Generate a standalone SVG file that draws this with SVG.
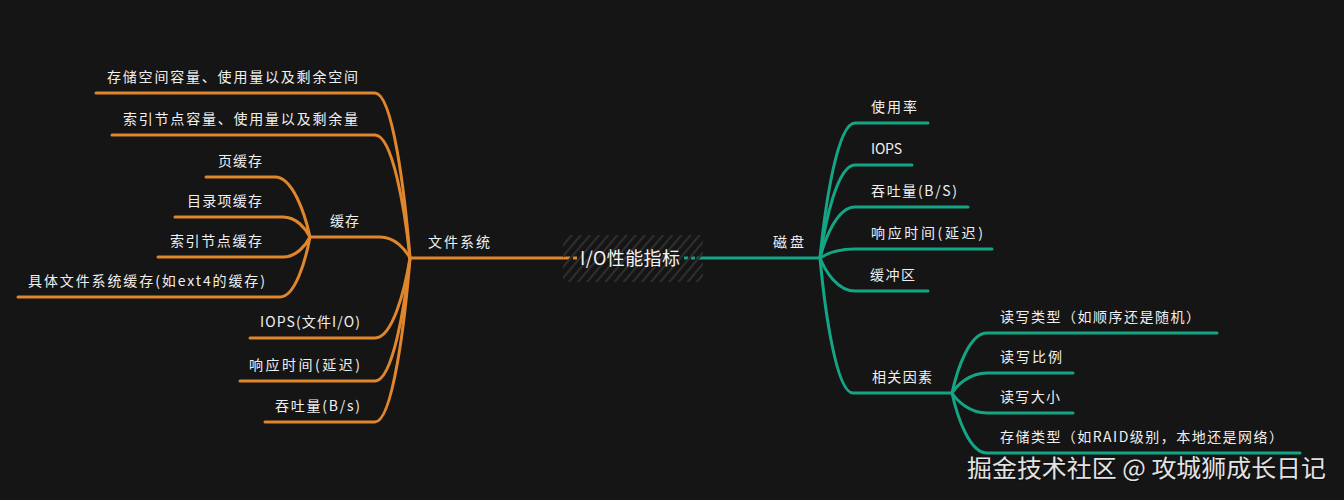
<svg xmlns="http://www.w3.org/2000/svg" width="1344" height="500" viewBox="0 0 1344 500">
<defs>
<pattern id="hatch" patternUnits="userSpaceOnUse" width="7" height="7" patternTransform="rotate(40)">
<line x1="1" y1="0" x2="1" y2="7" stroke="#2e2e2e" stroke-width="2.2"/>
</pattern>
<style>
.t{font-family:"Noto Sans CJK SC","Noto Sans",sans-serif;font-size:14px;fill:#f0f0f0;}
.e{text-anchor:end;}
.o{fill:none;stroke:#e0862c;stroke-width:3;stroke-linecap:round;}
.g{fill:none;stroke:#14a585;stroke-width:3;stroke-linecap:round;}
.od{fill:none;stroke:#e0862c;stroke-width:3;stroke-dasharray:4 3;}
.gd{fill:none;stroke:#14a585;stroke-width:3;stroke-dasharray:4 3;}
.c{font-family:"Noto Sans CJK SC","Noto Sans",sans-serif;font-size:18px;fill:#f4f4f4;}
.w{font-family:"Noto Sans CJK SC","Noto Sans",sans-serif;font-size:24px;fill:#e2e2e2;}
</style>
</defs>
<rect width="1344" height="500" fill="#151515"/>

<g id="connectors">
<path class="o" d="M410 258 L565 258"/>
<path class="od" d="M566 258 L580 258"/>
<path class="g" d="M698 258 L820 258"/>
<path class="gd" d="M684 258 L698 258"/>
<path class="o" d="M410 258 C404.8 192 392.5 93 375 93 L96 93"/>
<path class="o" d="M410 258 C404.8 208.8 392.5 135 375 135 L112 135"/>
<path class="o" d="M410 258 C405.5 249.6 395 237 380 237 L310 237"/>
<path class="o" d="M410 258 C404.8 290 392.5 338 375 338 L250 338"/>
<path class="o" d="M410 258 C404.8 307.2 392.5 381 375 381 L240 381"/>
<path class="o" d="M410 258 C404.8 323.6 392.5 422 375 422 L265 422"/>
<path class="o" d="M310 237 C304.8 213 292.5 177 275 177 L206 177"/>
<path class="o" d="M310 237 C306 229 296.5 217 283 217 L175 217"/>
<path class="o" d="M310 237 C306 245 296.5 257 283 257 L158 257"/>
<path class="o" d="M310 237 C305.5 261 295 297 280 297 L18 297"/>
<path class="g" d="M820 258 C825.3 204 837.5 123 855 123 L928 123"/>
<path class="g" d="M820 258 C825.3 220.8 837.5 165 855 165 L912 165"/>
<path class="g" d="M820 258 C825.3 237.6 837.5 207 855 207 L968 207"/>
<path class="g" d="M820 258 C825.3 254.4 837.5 249 855 249 L992 249"/>
<path class="g" d="M820 258 C825.3 271.2 837.5 291 855 291 L928 291"/>
<path class="g" d="M820 258 C825 312 836.5 393 853 393 L952 393"/>
<path class="g" d="M952 393 C957.3 369 969.5 333 987 333 L1217 333"/>
<path class="g" d="M952 393 C957.3 385 969.5 373 987 373 L1073 373"/>
<path class="g" d="M952 393 C957.3 401 969.5 413 987 413 L1073 413"/>
<path class="g" d="M952 393 C957.3 417 969.5 453 987 453 L1300 453"/>
</g>

<g id="root">
<rect x="563" y="235" width="140" height="47" rx="3" fill="url(#hatch)"/>
<text class="c" x="580" y="265" textLength="100" lengthAdjust="spacing">I/O性能指标</text>
</g>

<g id="n-fs"><text class="t" x="428" y="247" textLength="62" lengthAdjust="spacing">文件系统</text></g>
<g id="n-fs-space"><text class="t e" x="358" y="82" textLength="251" lengthAdjust="spacing">存储空间容量、使用量以及剩余空间</text></g>
<g id="n-fs-inode"><text class="t e" x="358" y="124" textLength="235" lengthAdjust="spacing">索引节点容量、使用量以及剩余量</text></g>
<g id="n-fs-cache"><text class="t e" x="359" y="226" textLength="29" lengthAdjust="spacing">缓存</text></g>
<g id="n-cache-page"><text class="t e" x="262" y="166" textLength="44" lengthAdjust="spacing">页缓存</text></g>
<g id="n-cache-dentry"><text class="t e" x="262" y="206" textLength="75" lengthAdjust="spacing">目录项缓存</text></g>
<g id="n-cache-inode"><text class="t e" x="262" y="246" textLength="92" lengthAdjust="spacing">索引节点缓存</text></g>
<g id="n-cache-fs"><text class="t e" x="265" y="286" textLength="237" lengthAdjust="spacing">具体文件系统缓存(如ext4的缓存)</text></g>
<g id="n-fs-iops"><text class="t e" x="360" y="327" textLength="100" lengthAdjust="spacing">IOPS(文件I/O)</text></g>
<g id="n-fs-latency"><text class="t e" x="360" y="370" textLength="111" lengthAdjust="spacing">响应时间(延迟)</text></g>
<g id="n-fs-throughput"><text class="t e" x="360" y="411" textLength="85" lengthAdjust="spacing">吞吐量(B/s)</text></g>

<g id="n-disk"><text class="t" x="773" y="247" textLength="31" lengthAdjust="spacing">磁盘</text></g>
<g id="n-disk-util"><text class="t" x="871" y="112" textLength="46" lengthAdjust="spacing">使用率</text></g>
<g id="n-disk-iops"><text class="t" x="871" y="154" textLength="31" lengthAdjust="spacing">IOPS</text></g>
<g id="n-disk-throughput"><text class="t" x="871" y="196" textLength="86" lengthAdjust="spacing">吞吐量(B/S)</text></g>
<g id="n-disk-latency"><text class="t" x="871" y="238" textLength="112" lengthAdjust="spacing">响应时间(延迟)</text></g>
<g id="n-disk-buffer"><text class="t" x="870" y="280" textLength="45" lengthAdjust="spacing">缓冲区</text></g>
<g id="n-disk-factors"><text class="t" x="872" y="382" textLength="60" lengthAdjust="spacing">相关因素</text></g>
<g id="n-f-type"><text class="t" x="1000" y="322" textLength="200" lengthAdjust="spacing">读写类型（如顺序还是随机）</text></g>
<g id="n-f-ratio"><text class="t" x="1000" y="362" textLength="62" lengthAdjust="spacing">读写比例</text></g>
<g id="n-f-size"><text class="t" x="1000" y="402" textLength="60" lengthAdjust="spacing">读写大小</text></g>
<g id="n-f-storage"><text class="t" x="1000" y="442" textLength="283" lengthAdjust="spacing">存储类型（如RAID级别，本地还是网络）</text></g>

<g id="watermark">
<text class="w" x="968" y="478" fill="#000" opacity="0.5" textLength="359" lengthAdjust="spacingAndGlyphs" style="fill:#000">掘金技术社区 @ 攻城狮成长日记</text>
<text class="w" x="967" y="477" textLength="359" lengthAdjust="spacingAndGlyphs">掘金技术社区 @ 攻城狮成长日记</text>
</g>
</svg>
